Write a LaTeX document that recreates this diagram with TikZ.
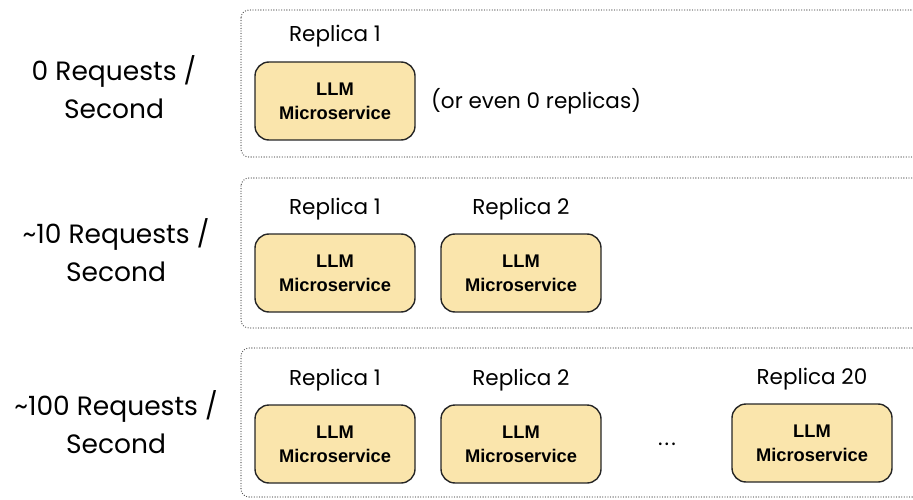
\documentclass[tikz,border=0pt]{standalone}
\usepackage{fontspec}
\setmainfont{Poppins}
\newfontfamily\boxfont{Liberation Sans}
\usetikzlibrary{positioning}
\definecolor{llmfill}{RGB}{250,229,172}
\definecolor{panelgray}{RGB}{85,85,85}
\tikzset{
    panel/.style={
        draw=panelgray,
        line width=1.3pt,
        line cap=round,
        dash pattern=on 0pt off 2.6pt,
        rounded corners=8pt
    },
    llmbox/.style={
        draw=black!85,
        fill=llmfill,
        line width=1.4pt,
        rounded corners=14pt,
        minimum width=160pt,
        minimum height=78pt,
        align=center,
        font=\boxfont\bfseries\fontsize{18.3}{24}\selectfont
    },
    replica/.style={
        font=\fontsize{21.5}{26}\selectfont
    },
    rate/.style={
        align=center,
        font=\fontsize{26.5}{37.5}\selectfont
    }
}

\begin{document}
\begin{tikzpicture}[
    x=1pt,
    y=-1pt
]
    \clip (0,0) rectangle (913,500);

    % Paneles
    \draw[panel] (241,10)  rectangle (940,157);
    \draw[panel] (241,178) rectangle (940,328);
    \draw[panel] (241,348) rectangle (940,497);

    % Carga
    \node[rate] (rate0)   at (114,87)  {0 Requests /\\Second};
    \node[rate] (rate10)  at (116,250) {\textasciitilde10 Requests /\\Second};
    \node[rate] (rate100) at (116,422) {\textasciitilde100 Requests /\\Second};

    % Fila 1
    \node[llmbox] (a1) at (335,101) {LLM\\Microservice};
    \node[replica, above=11pt of a1] (ra1) {Replica 1};
    \node[replica, right=12pt of a1] (zero) {(or even 0 replicas)};

    % Fila 2
    \node[llmbox] (b1) at (335,273) {LLM\\Microservice};
    \node[llmbox] (b2) at (521,273) {LLM\\Microservice};
    \node[replica, above=10pt of b1] (rb1) {Replica 1};
    \node[replica, above=10pt of b2] (rb2) {Replica 2};

    % Fila 3
    \node[llmbox] (c1)  at (335,444) {LLM\\Microservice};
    \node[llmbox] (c2)  at (521,444) {LLM\\Microservice};
    \node[llmbox] (c20) at (812,443) {LLM\\Microservice};
    \node[replica, above=10pt of c1]  (rc1)  {Replica 1};
    \node[replica, above=10pt of c2]  (rc2)  {Replica 2};
    \node[replica, above=10pt of c20] (rc20) {Replica 20};
    \node[replica] (dots) at (667,444) {.\hspace{2pt}.\hspace{2pt}.};

\end{tikzpicture}
\end{document}
